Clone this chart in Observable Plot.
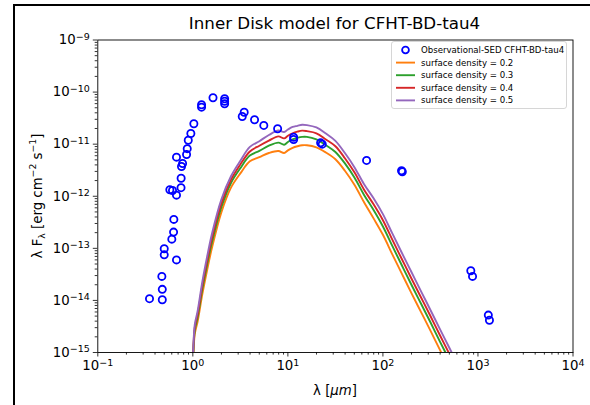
<!DOCTYPE html>
<html><head><meta charset="utf-8">
<script src="https://cdn.jsdelivr.net/npm/d3@7"></script>
<script src="https://cdn.jsdelivr.net/npm/@observablehq/plot@0.6"></script>
<style>
body{margin:0;background:#fff;font-family:"DejaVu Sans",sans-serif;color:#000;}
#wrap{position:relative;width:590px;height:405px;overflow:hidden;background:#fff;}
#wrap svg.plot{position:absolute;left:0;top:0;}
.frameL{position:absolute;left:13px;top:4px;width:2px;height:410px;background:#000;}
.frameT{position:absolute;left:13px;top:4px;width:590px;height:2px;background:#000;}
#title{position:absolute;left:97px;width:475px;top:13px;text-align:center;font-size:16.7px;white-space:nowrap;}
#ylab{position:absolute;left:37px;top:196px;transform:translate(-50%,-50%) rotate(-90deg);font-size:13.3px;white-space:nowrap;}
#xlab{position:absolute;left:335px;top:390px;transform:translate(-50%,-50%);font-size:13.3px;white-space:nowrap;}
sub,sup{font-size:70%;line-height:0;}
#legend{position:absolute;left:0;top:0;pointer-events:none;}
</style>
</head><body>
<div id="wrap">
  <div class="frameL"></div><div class="frameT"></div>
  <div id="title">Inner Disk model for CFHT-BD-tau4</div>
  <div id="ylab">λ F<sub>λ</sub> [erg cm<sup>−2</sup> s<sup>−1</sup>]</div>
  <div id="xlab">λ [<i>μm</i>]</div>
</div>
<script>
// ---- Observed SED ----
const obsLambda = [0.35,0.477,0.477,0.472,0.50,0.50,0.673,0.601,0.627,0.631,0.573,0.611,0.673,0.751,0.753,0.673,0.76,0.78,0.859,0.873,0.895,0.953,1.025,1.235,1.235,1.63,2.16,2.16,2.16,3.47,3.31,4.46,5.58,7.8,11.5,11.5,22.1,23.0,67.3,157,160,841,877,1285,1321];
const obsFlux = [1.08e-14,1.03e-14,1.63e-14,2.89e-14,7.5e-14,9.8e-14,6.0e-14,1.50e-13,2.05e-13,3.59e-13,1.33e-12,1.29e-12,1.05e-12,1.46e-12,2.22e-12,5.63e-12,3.73e-12,4.26e-12,6.34e-12,8.2e-12,1.19e-11,1.60e-11,2.47e-11,5.13e-11,5.7e-11,7.78e-11,7.43e-11,6.68e-11,5.96e-11,4.11e-11,3.40e-11,2.94e-11,2.29e-11,1.98e-11,1.36e-11,1.23e-11,1.06e-11,1.0e-11,4.87e-12,3.09e-12,2.95e-12,3.71e-14,2.89e-14,5.22e-15,4.17e-15];

// ---- Models ----
const modelLambda = [1.0,1.047,1.122,1.259,1.413,1.585,1.995,2.512,3.162,3.981,5.012,6.310,7.943,9.120,10.0,11.22,12.59,14.13,15.85,19.95,25.12,31.62,39.81,50.12,63.10,79.43,100,125.9,158.5,199.5,251.2,316.2,398.1,501.2,631.0];
const flux02 = [4.17e-16,2.24e-15,3.89e-15,1.32e-14,3.80e-14,1.00e-13,4.90e-13,1.45e-12,2.75e-12,4.68e-12,5.62e-12,6.76e-12,7.41e-12,6.76e-12,7.59e-12,8.51e-12,9.12e-12,9.55e-12,9.55e-12,8.71e-12,6.92e-12,5.13e-12,3.09e-12,1.66e-12,7.76e-13,3.80e-13,1.82e-13,7.59e-14,3.24e-14,1.38e-14,6.03e-15,2.63e-15,1.12e-15,4.90e-16,2.09e-16];
const flux03 = [4.68e-16,2.63e-15,4.68e-15,1.66e-14,4.90e-14,1.29e-13,6.17e-13,1.78e-12,3.47e-12,6.03e-12,7.41e-12,9.33e-12,1.07e-11,9.77e-12,1.10e-11,1.23e-11,1.32e-11,1.38e-11,1.38e-11,1.23e-11,9.55e-12,7.08e-12,4.27e-12,2.29e-12,1.07e-12,5.50e-13,2.63e-13,1.10e-13,4.68e-14,2.00e-14,8.71e-15,3.80e-15,1.62e-15,7.08e-16,3.02e-16];
const flux04 = [5.13e-16,3.02e-15,5.37e-15,1.95e-14,5.75e-14,1.55e-13,7.24e-13,2.04e-12,4.07e-12,7.24e-12,9.33e-12,1.17e-11,1.41e-11,1.29e-11,1.45e-11,1.62e-11,1.74e-11,1.82e-11,1.78e-11,1.62e-11,1.23e-11,9.12e-12,5.37e-12,2.88e-12,1.35e-12,7.08e-13,3.47e-13,1.45e-13,6.17e-14,2.63e-14,1.15e-14,5.01e-15,2.14e-15,9.33e-16,3.98e-16];
const flux05 = [5.62e-16,3.39e-15,6.21e-15,2.30e-14,6.93e-14,1.87e-13,8.65e-13,2.40e-12,4.80e-12,8.85e-12,1.14e-11,1.50e-11,1.83e-11,1.71e-11,1.91e-11,2.14e-11,2.25e-11,2.36e-11,2.32e-11,2.09e-11,1.60e-11,1.16e-11,6.75e-12,3.62e-12,1.72e-12,9.23e-13,4.53e-13,1.91e-13,8.13e-14,3.51e-14,1.51e-14,6.55e-15,2.82e-15,1.22e-15,5.25e-16];

const seriesNames = ["surface density = 0.2","surface density = 0.3","surface density = 0.4","surface density = 0.5"];
const seriesColors = ["#ff7f0e","#2ca02c","#d62728","#9467bd"];
const obsName = "Observational-SED CFHT-BD-tau4";
const obsColor = "#0000ff";

const xTicks = [0.1,1,10,100,1000,10000];
const yTicks = [1e-15,1e-14,1e-13,1e-12,1e-11,1e-10,1e-9];

// tables built from arrays
const obs = obsLambda.map((l,i)=>({lam:l, f:obsFlux[i]}));
const modelSets = [flux02,flux03,flux04,flux05];
const models = [];
modelSets.forEach((arr,k)=>arr.forEach((f,i)=>models.push({lam:modelLambda[i], f, s:seriesNames[k]})));

const minorOf = ticks => {
  const out=[];
  for (let i=0;i<ticks.length-1;i++) for (let m=2;m<=9;m++) out.push(ticks[i]*m);
  return out;
};
const expFmt = d => "10^" + Math.round(Math.log10(d));

const plot = Plot.plot({
  width:590, height:405,
  marginLeft:97.3, marginRight:17.5, marginTop:39.5, marginBottom:53,
  x:{type:"log", domain:[0.1,1e4]},
  y:{type:"log", domain:[1e-15,1e-9]},
  color:{domain:seriesNames, range:seriesColors},
  style:{fontFamily:"DejaVu Sans, sans-serif", fontSize:"13.3px", color:"#000", background:"transparent"},
  marks:[
    Plot.axisX({ticks:minorOf(xTicks), tickSize:2.6, tickFormat:()=>"", label:null, strokeWidth:0.8}),
    Plot.axisY({ticks:minorOf(yTicks), tickSize:2.6, tickFormat:()=>"", label:null, strokeWidth:0.8}),
    Plot.axisX({ticks:xTicks, tickSize:4.5, tickPadding:3.5, tickFormat:expFmt, label:null, strokeWidth:0.8, fontSize:13.3}),
    Plot.axisY({ticks:yTicks, tickSize:4.5, tickPadding:3.5, tickFormat:expFmt, label:null, strokeWidth:0.8, fontSize:13.3}),
    Plot.line(models, {x:"lam", y:"f", z:"s", stroke:"s", strokeWidth:1.9, curve:"catmull-rom", clip:true}),
    Plot.dot(obs, {x:"lam", y:"f", r:3.6, stroke:obsColor, strokeWidth:1.8, fill:"none", clip:true}),
    Plot.frame({stroke:"#000", strokeWidth:0.9})
  ]
});
plot.classList.add("plot");
document.getElementById("wrap").appendChild(plot);

// render exponents as superscripts
plot.querySelectorAll("text").forEach(t=>{
  const m = /^10\^(-?\d+)$/.exec(t.textContent);
  if (!m) return;
  const e = m[1].replace("-","−");
  t.textContent = "";
  const a = document.createElementNS("http://www.w3.org/2000/svg","tspan");
  a.textContent = "10";
  const b = document.createElementNS("http://www.w3.org/2000/svg","tspan");
  b.textContent = e;
  b.setAttribute("dy","-0.45em");
  b.setAttribute("font-size","9.5px");
  t.appendChild(a); t.appendChild(b);
});

// legend
const NS="http://www.w3.org/2000/svg";
const lg = document.createElementNS(NS,"svg");
lg.setAttribute("id","legend"); lg.setAttribute("width",590); lg.setAttribute("height",405);
const box = document.createElementNS(NS,"rect");
Object.entries({x:391.5,y:41.5,width:175,height:67,rx:2.5,fill:"rgba(255,255,255,0.8)",stroke:"#cccccc","stroke-width":0.8}).forEach(([k,v])=>box.setAttribute(k,v));
lg.appendChild(box);
const rowY = [50,62.6,75.2,87.8,100.4];
const items = [{name:obsName, color:obsColor, dot:true}].concat(seriesNames.map((n,i)=>({name:n,color:seriesColors[i]})));
items.forEach((it,i)=>{
  const y=rowY[i];
  if (it.dot){
    const c=document.createElementNS(NS,"circle");
    Object.entries({cx:405.5,cy:y,r:3.4,fill:"none",stroke:it.color,"stroke-width":1.8}).forEach(([k,v])=>c.setAttribute(k,v));
    lg.appendChild(c);
  } else {
    const l=document.createElementNS(NS,"line");
    Object.entries({x1:396,x2:415,y1:y,y2:y,stroke:it.color,"stroke-width":1.9}).forEach(([k,v])=>l.setAttribute(k,v));
    lg.appendChild(l);
  }
  const tx=document.createElementNS(NS,"text");
  Object.entries({x:421,y:y+3,"font-size":"8.6px","font-family":"DejaVu Sans, sans-serif",fill:"#000"}).forEach(([k,v])=>tx.setAttribute(k,v));
  tx.textContent=it.name;
  lg.appendChild(tx);
});
document.getElementById("wrap").appendChild(lg);
</script>
</body></html>
